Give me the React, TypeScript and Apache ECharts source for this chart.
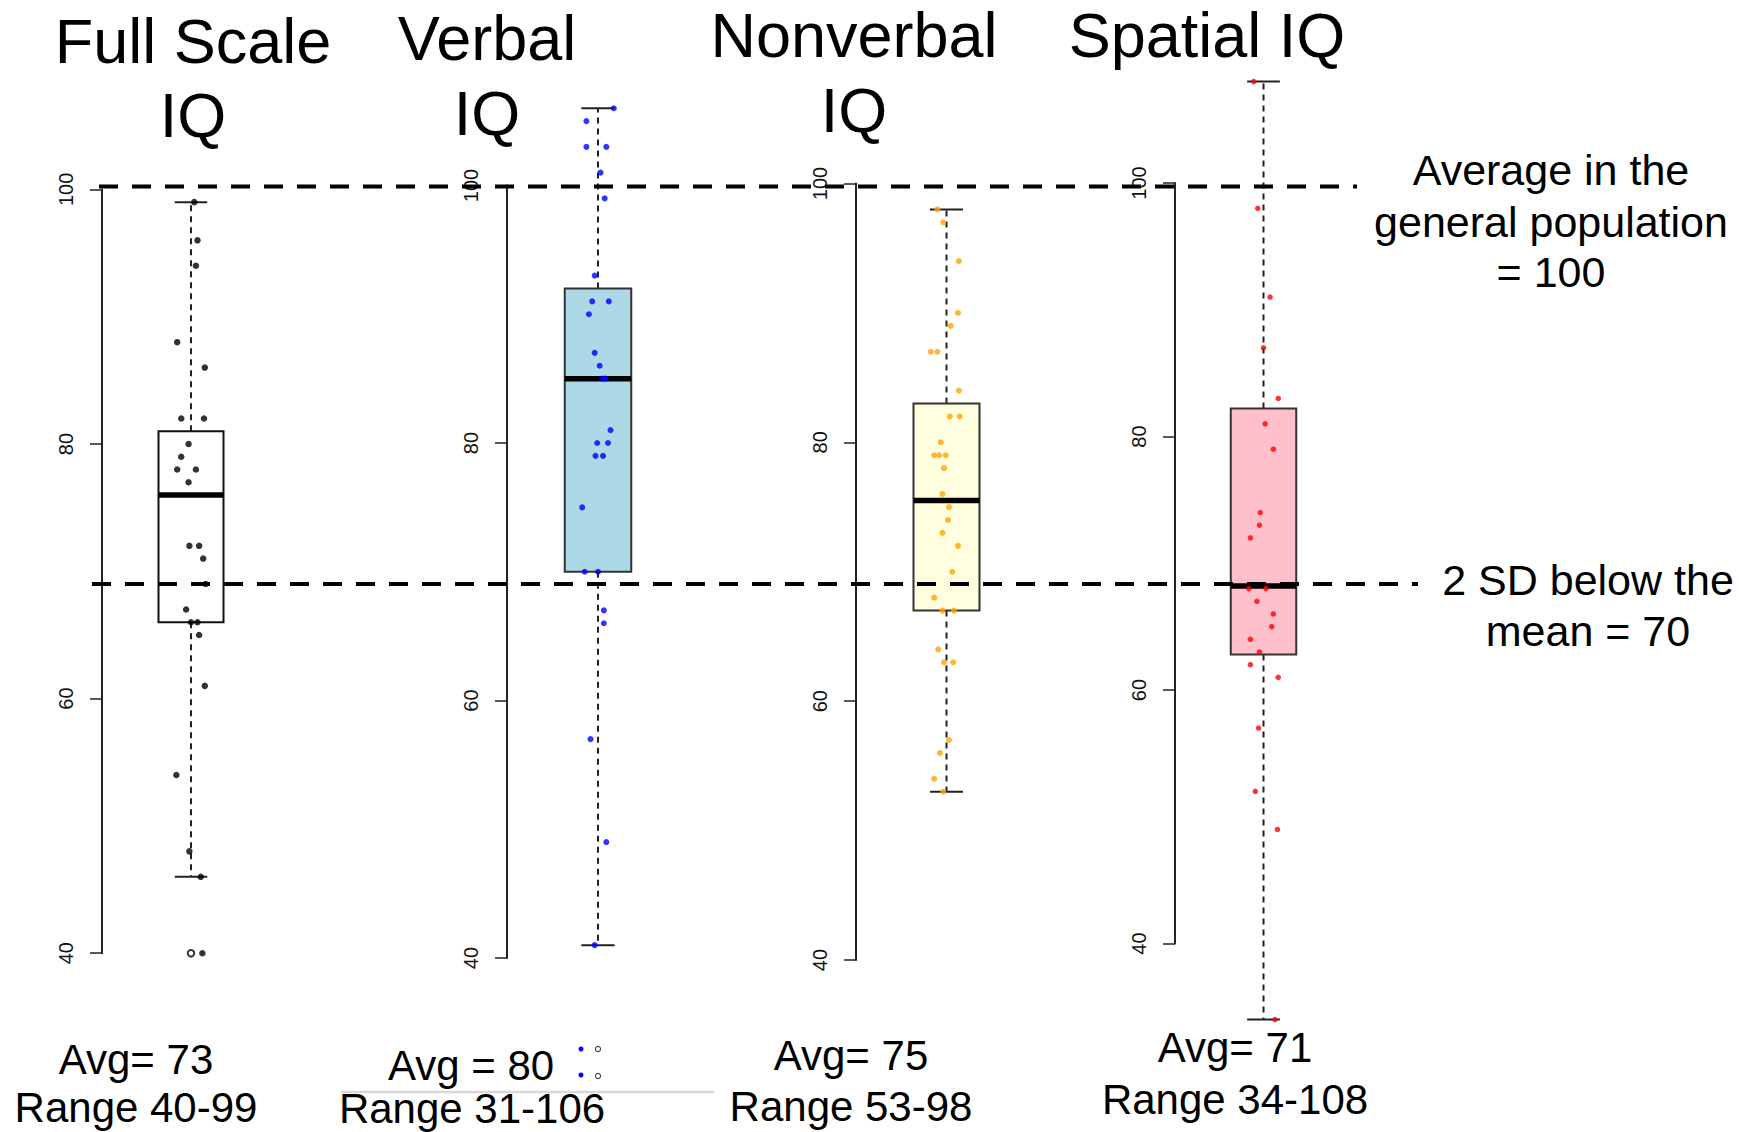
import React, { useEffect, useRef } from "react";
import * as echarts from "echarts";

// ---------------- Data ----------------
const titleLines: string[][] = [
  ["Full Scale", "IQ"],
  ["Verbal", "IQ"],
  ["Nonverbal", "IQ"],
  ["Spatial IQ"],
];
const yTickValues = [40, 60, 80, 100];

// box stats: [lower whisker, Q1, median, Q3, upper whisker]
const fullScaleBox = [46, 66, 76, 81, 99];
const verbalBox = [41, 70, 85, 92, 106];
const nonverbalBox = [53, 67, 75.5, 83, 98];
const spatialBox = [34, 62.8, 68.2, 82.2, 108];

const fullScaleOutliers = [40];

const fullScaleValues = [99, 96, 94, 88, 86, 82, 82, 80, 79, 78, 78, 77, 72, 72, 71, 69, 67, 66, 66, 65, 61, 54, 48, 46, 40];
const fullScaleJitter = [0.04, 0.08, 0.06, -0.17, 0.17, -0.12, 0.16, -0.03, -0.12, -0.17, 0.06, -0.03, -0.02, 0.1, 0.15, 0.18, -0.06, 0, 0.08, 0.1, 0.17, -0.18, -0.02, 0.12, 0.14];

const verbalValues = [106, 105, 103, 103, 101, 99, 93, 91, 91, 90, 87, 86, 85, 85, 81, 80, 80, 79, 79, 75, 70, 70, 67, 66, 57, 49, 41];
const verbalJitter = [0.19, -0.14, -0.14, 0.1, 0.03, 0.08, -0.04, -0.07, 0.13, -0.11, -0.04, 0.02, 0.05, 0.09, 0.15, -0.01, 0.12, -0.03, 0.06, -0.19, -0.16, 0, 0.07, 0.07, -0.09, 0.1, -0.04];

const nonverbalValues = [98, 97, 94, 90, 89, 87, 87, 84, 82, 82, 80, 79, 79, 79, 78, 76, 75, 74, 73, 72, 70, 68, 67, 67, 64, 63, 63, 57, 56, 54, 53];
const nonverbalJitter = [-0.11, -0.04, 0.15, 0.14, 0.05, -0.19, -0.11, 0.15, 0.04, 0.16, -0.07, -0.15, -0.09, -0.01, -0.03, -0.05, 0.03, 0.02, -0.05, 0.14, 0.07, -0.15, -0.05, 0.09, -0.1, -0.03, 0.08, 0.03, -0.08, -0.15, -0.04];

const spatialValues = [108, 98, 91, 87, 83, 81, 79, 74, 73, 72, 68, 68, 67, 66, 65, 64, 63, 62, 61, 57, 52, 49, 34];
const spatialJitter = [-0.12, -0.07, 0.08, 0, 0.18, 0.02, 0.12, -0.04, -0.05, -0.16, -0.18, 0.03, -0.08, 0.12, 0.1, -0.16, -0.05, -0.16, 0.18, -0.06, -0.1, 0.17, 0.14];

const avgLabels = ["Avg= 73", "Avg = 80", "Avg= 75", "Avg= 71"];
const rangeLabels = ["Range 40-99", "Range 31-106", "Range 53-98", "Range 34-108"];

const refLineValues = [100, 70];
const refLineLabels: string[][] = [
  ["Average in the", "general population", "= 100"],
  ["2 SD below the", "mean = 70"],
];

// ---------------- Styles / layout ----------------
const FONT = '"Liberation Sans", Arial, Helvetica, sans-serif';

const panels = [
  { box: fullScaleBox, values: fullScaleValues, jitter: fullScaleJitter, outliers: fullScaleOutliers, fill: "#ffffff", stroke: "#111", color: "#000000", size: 6.5 },
  { box: verbalBox, values: verbalValues, jitter: verbalJitter, outliers: [] as number[], fill: "#ADD8E6", stroke: "#333", color: "#0000FF", size: 6 },
  { box: nonverbalBox, values: nonverbalValues, jitter: nonverbalJitter, outliers: [] as number[], fill: "#FFFFE0", stroke: "#333", color: "#FFA500", size: 6 },
  { box: spatialBox, values: spatialValues, jitter: spatialJitter, outliers: [] as number[], fill: "#FFC0CB", stroke: "#333", color: "#FF0000", size: 5.5 },
];

const layout = [
  { axisX: 102, y100: 189.4, y40: 953.2, center: 191, boxPx: 65 },
  { axisX: 507, y100: 185.5, y40: 958, center: 598, boxPx: 66.5 },
  { axisX: 856, y100: 183.5, y40: 960, center: 946.5, boxPx: 66 },
  { axisX: 1175, y100: 183, y40: 943.5, center: 1263.5, boxPx: 65.5 },
];

const titlePos = [
  { x: 193, ys: [40.5, 115.3] },
  { x: 487, ys: [38.3, 112.6] },
  { x: 854, ys: [35, 110] },
  { x: 1207, ys: [35] },
];
const avgPos = [
  { x: 136, y: 1059 },
  { x: 471, y: 1065 },
  { x: 851, y: 1055 },
  { x: 1235, y: 1047 },
];
const rangePos = [
  { x: 136, y: 1107 },
  { x: 472, y: 1108 },
  { x: 851, y: 1106 },
  { x: 1235, y: 1099 },
];
const refLineLayout = [
  { left: 99, right: 1357 },
  { left: 92, right: 1418 },
];
const refLabelPos = [
  { x: 1551, ys: [169.5, 222, 271.5] },
  { x: 1588, ys: [580, 630.5] },
];

function makeBoxRenderer(fill: string, stroke: string) {
  return (_params: any, api: any) => {
    const x = api.value(0);
    const lo = api.value(1);
    const q1 = api.value(2);
    const med = api.value(3);
    const q3 = api.value(4);
    const hi = api.value(5);
    const hw = 0.4;
    const cw = 0.2;
    const c = (a: number, b: number) => api.coord([a, b]);
    const cq3 = c(x, q3), chi = c(x, hi), cq1 = c(x, q1), clo = c(x, lo);
    const hiL = c(x - cw, hi), hiR = c(x + cw, hi);
    const loL = c(x - cw, lo), loR = c(x + cw, lo);
    const tl = c(x - hw, q3), br = c(x + hw, q1);
    const mL = c(x - hw, med), mR = c(x + hw, med);
    const dash = { stroke: "#222", lineWidth: 2, lineDash: [6, 5], fill: null };
    const solid = { stroke: "#222", lineWidth: 2, fill: null };
    return {
      type: "group",
      children: [
        { type: "line", shape: { x1: cq3[0], y1: cq3[1], x2: chi[0], y2: chi[1] }, style: dash },
        { type: "line", shape: { x1: cq1[0], y1: cq1[1], x2: clo[0], y2: clo[1] }, style: dash },
        { type: "line", shape: { x1: hiL[0], y1: hiL[1], x2: hiR[0], y2: hiR[1] }, style: solid },
        { type: "line", shape: { x1: loL[0], y1: loL[1], x2: loR[0], y2: loR[1] }, style: solid },
        {
          type: "rect",
          shape: { x: tl[0], y: tl[1], width: br[0] - tl[0], height: br[1] - tl[1] },
          style: { fill, stroke, lineWidth: 2 },
        },
        { type: "line", shape: { x1: mL[0], y1: mL[1], x2: mR[0], y2: mR[1] }, style: { stroke: "#000", lineWidth: 5.5 } },
      ],
    };
  };
}

function text(str: string, x: number, y: number, size: number) {
  return {
    type: "text",
    x,
    y,
    z: 100,
    silent: true,
    style: {
      text: str,
      fontSize: size,
      lineHeight: size,
      fontFamily: FONT,
      fill: "#000",
      align: "center",
      verticalAlign: "middle",
      textAlign: "center",
      textVerticalAlign: "middle",
    },
  };
}

function buildOption() {
  const grid: any[] = [];
  const xAxis: any[] = [];
  const yAxis: any[] = [];
  const series: any[] = [];
  const graphic: any[] = [];

  panels.forEach((p, i) => {
    const L = layout[i];
    const ppu = (L.y40 - L.y100) / 60;
    const unit = L.boxPx / 0.8;

    // visible axis grid (40..100)
    const ag = grid.length;
    grid.push({ left: L.axisX, top: L.y100, width: 10, height: L.y40 - L.y100, containLabel: false, outerBoundsMode: "none" });
    xAxis.push({ gridIndex: ag, type: "value", min: 0, max: 1, show: false });
    yAxis.push({
      gridIndex: ag,
      type: "value",
      min: yTickValues[0],
      max: yTickValues[yTickValues.length - 1],
      interval: 20,
      position: "left",
      axisLine: { show: true, lineStyle: { color: "#222", width: 2 } },
      axisTick: { show: true, length: 12, lineStyle: { color: "#222", width: 1.5 } },
      axisLabel: { show: true, rotate: 90, margin: 26, fontSize: 20, color: "#111", fontFamily: FONT },
      splitLine: { show: false },
    });

    // data grid (30..110) with same scale
    const dg = grid.length;
    grid.push({ left: L.center - unit, top: L.y100 - 10 * ppu, width: 2 * unit, height: 80 * ppu, containLabel: false, outerBoundsMode: "none" });
    xAxis.push({ gridIndex: dg, type: "value", min: 0, max: 2, show: false });
    yAxis.push({ gridIndex: dg, type: "value", min: 30, max: 110, show: false });

    series.push({
      type: "custom",
      xAxisIndex: dg,
      yAxisIndex: dg,
      data: [[1, ...p.box]],
      encode: { x: 0, y: [1, 2, 3, 4, 5] },
      renderItem: makeBoxRenderer(p.fill, p.stroke),
      silent: true,
      z: 2,
    });
    series.push({
      type: "scatter",
      xAxisIndex: dg,
      yAxisIndex: dg,
      data: p.values.map((v, k) => [1 + p.jitter[k], v]),
      symbol: "circle",
      symbolSize: p.size,
      itemStyle: { color: p.color },
      silent: true,
      z: 3,
    });
    if (p.outliers.length) {
      series.push({
        type: "scatter",
        xAxisIndex: dg,
        yAxisIndex: dg,
        data: p.outliers.map((v) => [1, v]),
        symbol: "emptyCircle",
        symbolSize: 6.5,
        itemStyle: { color: "#000", borderWidth: 1.4 },
        silent: true,
        z: 3,
      });
    }

    titleLines[i].forEach((t, k) => graphic.push(text(t, titlePos[i].x, titlePos[i].ys[k], 63)));
    graphic.push(text(avgLabels[i], avgPos[i].x, avgPos[i].y, 42));
    graphic.push(text(rangeLabels[i], rangePos[i].x, rangePos[i].y, 42));
  });

  // reference dashed lines (overlay grids: 100 at y=186.5, 70 at y=584)
  const refTop = 186.5;
  const refPpu = (584 - 186.5) / 30;
  refLineValues.forEach((v, i) => {
    const R = refLineLayout[i];
    const g = grid.length;
    grid.push({ left: R.left, top: refTop, width: R.right - R.left, height: 60 * refPpu, containLabel: false, outerBoundsMode: "none" });
    xAxis.push({ gridIndex: g, type: "value", min: 0, max: 1, show: false });
    yAxis.push({ gridIndex: g, type: "value", min: 40, max: 100, show: false });
    series.push({
      type: "line",
      xAxisIndex: g,
      yAxisIndex: g,
      data: [[0, v], [1, v]],
      symbol: "none",
      clip: false,
      silent: true,
      lineStyle: { color: "#000", width: 4, type: [19, 14] },
      z: 10,
    });
    refLineLabels[i].forEach((t, k) => graphic.push(text(t, refLabelPos[i].x, refLabelPos[i].ys[k], 43)));
  });

  // small artefacts near "Avg = 80"
  graphic.push({ type: "line", z: 50, silent: true, shape: { x1: 341, y1: 1092, x2: 714, y2: 1092 }, style: { stroke: "#d8d8d8", lineWidth: 2.5 } });
  [[581, 1049], [581, 1075]].forEach(([cx, cy]) =>
    graphic.push({ type: "circle", z: 50, silent: true, shape: { cx, cy, r: 2.5 }, style: { fill: "#0000FF" } })
  );
  [[598, 1049], [598, 1076]].forEach(([cx, cy]) =>
    graphic.push({ type: "circle", z: 50, silent: true, shape: { cx, cy, r: 2.6 }, style: { fill: "#fff", stroke: "#444", lineWidth: 1.2 } })
  );

  return {
    animation: false,
    backgroundColor: "#ffffff",
    grid,
    xAxis,
    yAxis,
    series,
    graphic,
  };
}

export default function App() {
  const ref = useRef<HTMLDivElement>(null);
  useEffect(() => {
    document.body.style.margin = "0";
    const chart = echarts.init(ref.current as HTMLDivElement, null, { renderer: "svg" });
    chart.setOption(buildOption() as any);
    return () => chart.dispose();
  }, []);
  return <div ref={ref} style={{ position: "absolute", left: 0, top: 0, width: 1739, height: 1132 }} />;
}
